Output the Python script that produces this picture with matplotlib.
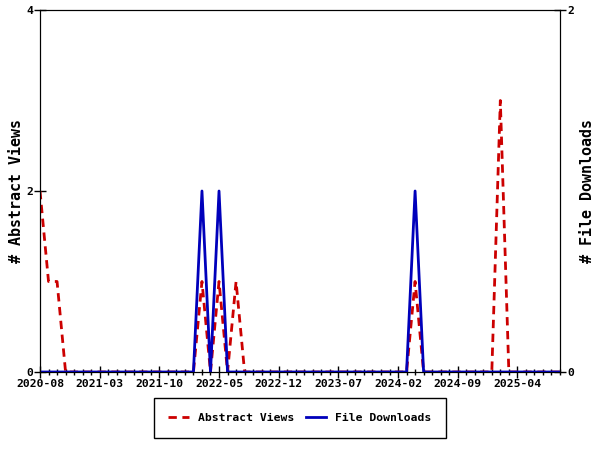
import matplotlib
matplotlib.use('Agg')
import matplotlib.pyplot as plt
import pandas as pd

plt.rcParams['font.family'] = ['DejaVu Sans Mono']
plt.rcParams['font.weight'] = 'bold'
plt.rcParams['axes.labelweight'] = 'bold'

# monthly counts, 2020-08 .. 2025-09
months = pd.date_range('2020-08-01', periods=62, freq='MS')
abstract_views = [2, 1, 1, 0, 0, 0, 0, 0, 0, 0,
                  0, 0, 0, 0, 0, 0, 0, 0, 0, 1,
                  0, 1, 0, 1, 0, 0, 0, 0, 0, 0,
                  0, 0, 0, 0, 0, 0, 0, 0, 0, 0,
                  0, 0, 0, 0, 1, 0, 0, 0, 0, 0,
                  0, 0, 0, 0, 3, 0, 0, 0, 0, 0,
                  0, 0]
file_downloads = [0, 0, 0, 0, 0, 0, 0, 0, 0, 0,
                  0, 0, 0, 0, 0, 0, 0, 0, 0, 1,
                  0, 1, 0, 0, 0, 0, 0, 0, 0, 0,
                  0, 0, 0, 0, 0, 0, 0, 0, 0, 0,
                  0, 0, 0, 0, 1, 0, 0, 0, 0, 0,
                  0, 0, 0, 0, 0, 0, 0, 0, 0, 0,
                  0, 0]

x = list(range(len(months)))
tick_pos = x[::7]
tick_labels = [months[i].strftime('%Y-%m') for i in tick_pos]

fig = plt.figure(figsize=(6, 4.5), dpi=100)
ax = fig.add_axes([40/600, 78/450, 520/600, 362/450])
ax2 = ax.twinx()

l1, = ax.plot(x, abstract_views, color='#cc0000', lw=2, ls=(0, (3, 2)), label='Abstract Views')
l2, = ax2.plot(x, file_downloads, color='#0000bb', lw=2, label='File Downloads')

ax.set_xlim(0, len(x) - 1)
ax.set_ylim(0, 4)
ax2.set_ylim(0, 2)
ax.set_yticks([0, 2, 4])
ax2.set_yticks([0, 2])
ax.set_xticks(tick_pos)
ax.set_xticklabels(tick_labels)
ax.set_xticks(x, minor=True)

for a in (ax, ax2):
    a.tick_params(direction='inout', length=8, width=1, labelsize=8.2, pad=1)
    a.tick_params(which='minor', direction='inout', length=5, width=1)

ax.set_ylabel('# Abstract Views', fontsize=10.8)
ax2.set_ylabel('# File Downloads', fontsize=10.8, rotation=90)
ax.yaxis.set_label_coords(-0.03, 0.5)
ax2.yaxis.set_label_coords(1.038, 0.5)

leg = fig.legend(handles=[l1, l2], loc='center', bbox_to_anchor=(300/600, 32/450),
                 ncol=2, fontsize=8.2, fancybox=False, edgecolor='black',
                 framealpha=1, handlelength=1.8, handletextpad=0.8,
                 borderpad=1.3, columnspacing=1.0)
leg.get_frame().set_linewidth(1)

fig.savefig('out.png', dpi=100)
